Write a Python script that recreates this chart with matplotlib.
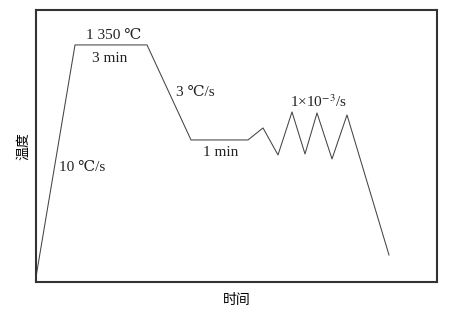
import matplotlib
matplotlib.use('Agg')
import matplotlib.pyplot as plt

plt.rcParams['font.family'] = ['Liberation Serif', 'DejaVu Serif', 'Noto Sans CJK SC']
plt.rcParams['mathtext.fontset'] = 'stix'

# schematic thermal cycle (arbitrary units)
time = [0, 39, 111, 155, 212, 227, 242, 256, 269, 281, 296, 311, 353]
temp = [5, 237, 237, 142, 142, 154, 127, 170, 128, 169, 123, 167, 27]

labels = ['1 350 ℃', '3 min', '3 ℃/s', '1 min', r'1×10$^{-3}$/s', '10 ℃/s']
label_x = [78, 74, 159, 185, 282, 46]
label_y = [246, 223, 189, 129, 180, 114]

fig = plt.figure(figsize=(4.75, 3.12), dpi=100)
ax = fig.add_axes([0.0758, 0.0962, 0.8442, 0.872])

ax.plot(time, temp, color='#444444', lw=0.75)

for s, x, y in zip(labels, label_x, label_y):
    ax.text(x, y, s, fontsize=11, ha='center', va='center', color='#222222')

ax.set_xlim(0, 401)
ax.set_ylim(0, 272)
ax.set_xticks([])
ax.set_yticks([])
for sp in ax.spines.values():
    sp.set_linewidth(1.5)
    sp.set_color('#333333')

ax.set_xlabel('时间', fontsize=10, family=['Noto Sans CJK SC'], labelpad=8)
ax.set_ylabel('温度', fontsize=10, family=['Noto Sans CJK SC'], labelpad=4)

fig.savefig('out.png', dpi=100)
